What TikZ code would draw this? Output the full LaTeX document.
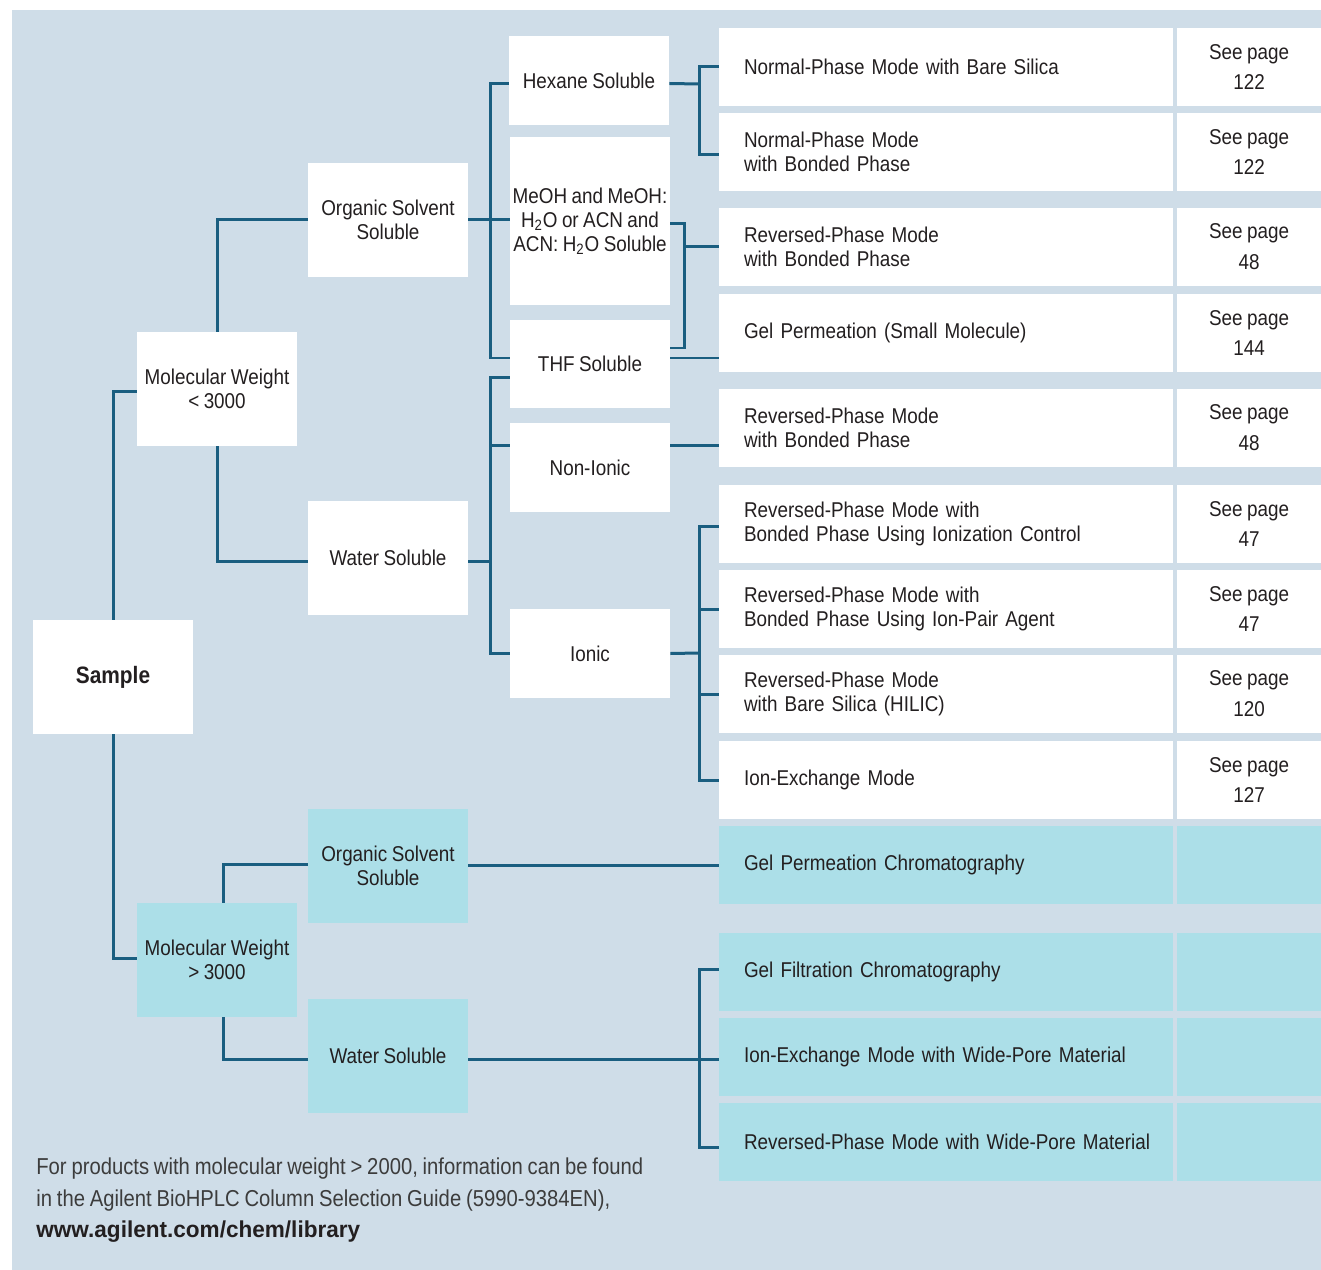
\documentclass[tikz,border=0pt]{standalone}
\usepackage{fontspec}
\setmainfont{Liberation Sans}[FakeStretch=0.88, WordSpace=0.85]
\newfontfamily\urlfont{Liberation Sans}[FakeStretch=0.98]
\usepackage{tikz}
\usetikzlibrary{calc}
\usepackage{xcolor}

\definecolor{bgblue}{HTML}{CFDDE8}
\definecolor{boxcyan}{HTML}{ACDFE8}
\definecolor{linkblue}{HTML}{1A5E80}
\definecolor{txt}{HTML}{231F20}
\definecolor{foottxt}{HTML}{3C3C3C}

\newcommand{\nohyph}{\hyphenpenalty 10000\relax}

\begin{document}
\begin{tikzpicture}[x=0.02cm, y=-0.02cm,
  box/.style={fill=white, text=txt, align=center, inner sep=0pt, minimum width=3.2cm, font=\fontsize{12.2}{13.7}\selectfont},
  tall/.style={box, minimum height=2.28cm},
  short/.style={box, minimum height=1.78cm},
  rowbox/.style={fill=white, text=txt, align=left, inner ysep=0pt, inner xsep=0.5cm, text width=8.08cm, minimum height=1.56cm, font=\fontsize{12.2}{13.7}\selectfont\nohyph},
  pagebox/.style={fill=white, text=txt, align=center, inner sep=0pt, minimum width=2.9cm, minimum height=1.56cm, font=\fontsize{12.2}{17.6}\selectfont},
  link/.style={draw=linkblue, line width=0.06cm}]

\useasboundingbox (0,0) rectangle (1321,1270);
\fill[bgblue] (12,10) rectangle (1321,1270);

% left part of the tree
\node[tall, font=\fontsize{13.5}{15}\bfseries] (sample) at (113,677) {Sample};
\node[tall] (mwlo) at (217,389) {Molecular Weight\\< 3000};
\node[tall, fill=boxcyan] (mwhi) at (217,960) {Molecular Weight\\> 3000};

\node[tall] (orgtop) at (388,220) {Organic Solvent\\Soluble};
\node[tall] (watertop) at (388,558) {Water Soluble};
\node[tall, fill=boxcyan] (orgbot) at (388,866) {Organic Solvent\\Soluble};
\node[tall, fill=boxcyan] (waterbot) at (388,1056) {Water Soluble};

\node[short] (hexane) at (589,80.5) {Hexane Soluble};
\node[box, minimum height=3.38cm] (meoh) at (590,221) {MeOH and MeOH:\\H\textsubscript{2}O or ACN and\\ACN: H\textsubscript{2}O Soluble};
\node[box, minimum height=1.76cm] (thf) at (590,364) {THF Soluble};
\node[short] (nonion) at (590,467.5) {Non-Ionic};
\node[short] (ionic) at (590,653.5) {Ionic};

% column of modes and pages
\node[rowbox] (r1) at (946,67) {Normal-Phase Mode with Bare Silica};
\node[pagebox] (p1) at (1249,67) {See page\\122};
\node[rowbox] (r2) at (946,152) {Normal-Phase Mode\\with Bonded Phase};
\node[pagebox] (p2) at (1249,152) {See page\\122};
\node[rowbox] (r3) at (946,247) {Reversed-Phase Mode\\with Bonded Phase};
\node[pagebox] (p3) at (1249,247) {See page\\48};
\node[rowbox] (r4) at (946,333) {Gel Permeation (Small Molecule)};
\node[pagebox] (p4) at (1249,333) {See page\\144};
\node[rowbox] (r5) at (946,428) {Reversed-Phase Mode\\with Bonded Phase};
\node[pagebox] (p5) at (1249,428) {See page\\48};
\node[rowbox] (r6) at (946,524) {Reversed-Phase Mode with\\Bonded Phase Using Ionization Control};
\node[pagebox] (p6) at (1249,524) {See page\\47};
\node[rowbox] (r7) at (946,609) {Reversed-Phase Mode with\\Bonded Phase Using Ion-Pair Agent};
\node[pagebox] (p7) at (1249,609) {See page\\47};
\node[rowbox] (r8) at (946,694) {Reversed-Phase Mode\\with Bare Silica (HILIC)};
\node[pagebox] (p8) at (1249,694) {See page\\120};
\node[rowbox] (r9) at (946,780) {Ion-Exchange Mode};
\node[pagebox] (p9) at (1249,780) {See page\\127};

\node[rowbox, fill=boxcyan] (r10) at (946,865) {Gel Permeation Chromatography};
\node[pagebox, fill=boxcyan] (p10) at (1249,865) {};
\node[rowbox, fill=boxcyan] (r11) at (946,972) {Gel Filtration Chromatography};
\node[pagebox, fill=boxcyan] (p11) at (1249,972) {};
\node[rowbox, fill=boxcyan] (r12) at (946,1057) {Ion-Exchange Mode with Wide-Pore Material};
\node[pagebox, fill=boxcyan] (p12) at (1249,1057) {};
\node[rowbox, fill=boxcyan] (r13) at (946,1142) {\mbox{Reversed-Phase Mode with Wide-Pore Material}};
\node[pagebox, fill=boxcyan] (p13) at (1249,1142) {};

% junctions
\coordinate (jorg) at (490,220);
\coordinate (jwat) at (490,561);
\coordinate (jnon) at (490,445);
\coordinate (jhex) at (699,84);
\coordinate (jmeoh) at (684,247);
\coordinate (jion) at (699,653);
\coordinate (jwb) at (699,1059);

% connectors
\draw[link] (sample.north) |- ($(mwlo.west)+(0,2)$);
\draw[link] (sample.south) |- ($(mwhi.west)+(0,-2)$);
\draw[link] (mwlo.north) |- (orgtop.west);
\draw[link] (mwlo.south) |- ($(watertop.west)+(0,3)$);
\draw[link] ($(mwhi.north)+(6,0)$) |- ($(orgbot.west)+(0,-2)$);
\draw[link] ($(mwhi.south)+(6,0)$) |- ($(waterbot.west)+(0,3)$);

\draw[link] (orgtop.east) -- (jorg);
\draw[link] ($(hexane.west)+(0,3)$) -| (jorg) |- ($(thf.west)+(0,-6)$);
\draw[link] (jorg) -- (meoh.west |- jorg);

\draw[link] ($(watertop.east)+(0,3)$) -- (jwat);
\draw[link] ($(thf.west)+(0,13)$) -| (jwat) |- (ionic.west);
\draw[link] (jnon) -- (nonion.west |- jnon);

\draw[link] ($(hexane.east)+(0,3)$) -- (jhex);
\draw[link] (r1.west) -| (jhex) |- ($(r2.west)+(0,3)$);
\draw[link] ($(meoh.east)+(0,3)$) -| (jmeoh) |- ($(thf.east)+(0,-16)$);
\draw[link] (jmeoh) -- (r3.west);
\draw[link] ($(thf.east)+(0,-6)$) -- ($(r4.west)+(0,25)$);
\draw[link] (nonion.east |- jnon) -- (r5.west |- jnon);

\draw[link] (ionic.east) -- (jion);
\draw[link] ($(r6.west)+(0,2)$) -| (jion) |- (r9.west);
\draw[link] (jion |- r7.west) -- (r7.west);
\draw[link] (jion |- r8.west) -- (r8.west);

\draw[link] ($(orgbot.east)+(0,-1)$) -- (r10.west);
\draw[link] ($(waterbot.east)+(0,3)$) -- (jwb);
\draw[link] ($(r11.west)+(0,-3)$) -| (jwb) |- ($(r13.west)+(0,5)$);
\draw[link] (jwb) -- (r12.west |- jwb);

% note at the foot
\node[anchor=north west, align=left, inner sep=0pt, text=foottxt, font=\fontsize{13.1}{18.2}\selectfont] (note) at (36,1157)
  {For products with molecular weight > 2000, information can be found\\
   in the Agilent BioHPLC Column Selection Guide (5990-9384EN),\\
   {\urlfont\bfseries\color{txt}www.agilent.com/chem/library}};

\end{tikzpicture}
\end{document}
